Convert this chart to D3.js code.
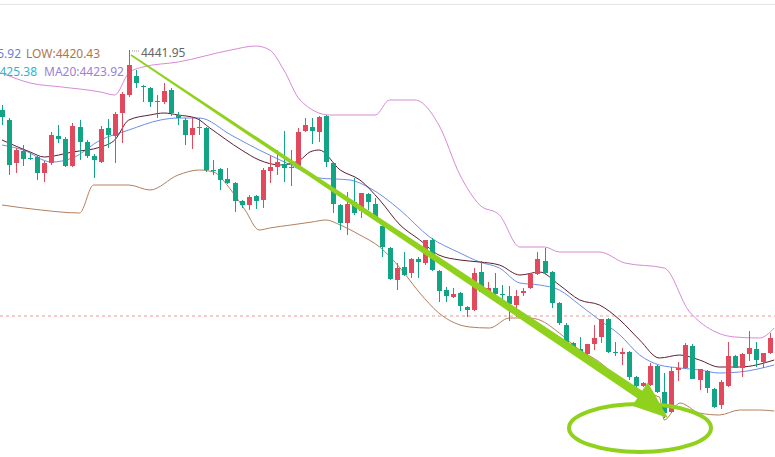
<!DOCTYPE html>
<html>
<head>
<meta charset="utf-8">
<script src="https://cdn.jsdelivr.net/npm/d3@7.9.0/dist/d3.min.js"></script>
<style>
  body { margin: 0; background: #fff; }
  svg { display: block; font-family: "Noto Sans", Roboto, sans-serif; }
</style>
</head>
<body>
<svg id="chart" width="775" height="457"></svg>
<script>
// candles: open, high, low, close
const candles = [
  [4439.0,4439.5,4437.5,4438.3],[4438.0,4438.2,4432.5,4433.5],[4433.7,4435.2,4432.7,4435.0],[4434.9,4435.5,4433.4,4434.1],
  [4434.2,4434.7,4434.0,4434.15],[4434.3,4434.5,4432.0,4432.7],[4432.7,4433.9,4431.8,4433.7],[4433.7,4436.8,4433.5,4436.5],
  [4436.4,4437.5,4435.7,4436.1],[4436.1,4436.3,4433.3,4433.4],[4433.4,4437.7,4433.3,4437.4],[4437.3,4438.0,4434.0,4435.8],
  [4435.8,4436.0,4434.2,4434.4],[4434.4,4434.6,4432.2,4434.0],[4433.8,4437.4,4433.7,4437.1],[4437.2,4438.1,4435.2,4436.5],
  [4436.4,4438.8,4433.7,4438.6],[4438.7,4440.8,4435.7,4440.6],[4440.5,4445.0,4440.3,4443.5],[4442.4,4443.0,4441.2,4441.7],
  [4441.4,4441.5,4439.8,4441.3],[4441.2,4441.3,4439.3,4439.8],[4439.85,4440.5,4438.2,4439.9],[4439.8,4441.7,4439.6,4440.9],
  [4441.0,4441.2,4438.4,4438.7],[4438.5,4438.8,4437.5,4438.2],[4438.0,4438.2,4435.5,4436.5],[4436.5,4438.2,4435.1,4437.2],
  [4437.25,4438.2,4436.5,4437.3],[4437.2,4437.3,4432.8,4433.0],[4433.0,4434.0,4432.5,4432.95],[4433.1,4433.2,4431.0,4432.0],
  [4432.1,4433.2,4431.6,4431.7],[4431.7,4431.8,4428.8,4429.9],[4429.9,4430.0,4429.2,4429.5],[4429.5,4430.5,4429.0,4430.3],
  [4430.4,4430.5,4429.1,4429.9],[4430.0,4433.2,4429.2,4433.0],[4432.9,4434.5,4431.7,4433.3],[4433.3,4435.0,4432.5,4433.8],
  [4433.6,4436.9,4431.8,4433.2],[4433.25,4435.0,4431.4,4433.3],[4433.3,4437.2,4433.2,4436.8],[4436.9,4438.2,4436.8,4437.5],
  [4437.3,4438.2,4435.6,4436.9],[4436.8,4438.4,4435.8,4438.3],[4438.4,4438.5,4433.3,4433.8],[4433.7,4433.8,4428.7,4429.6],
  [4429.5,4429.6,4427.0,4427.7],[4427.7,4430.8,4426.5,4429.6],[4429.8,4432.2,4428.5,4428.7],[4428.9,4430.7,4428.2,4430.7],
  [4430.6,4430.7,4429.0,4429.8],[4429.6,4430.2,4428.1,4428.2],[4427.4,4427.6,4424.3,4425.3],[4425.2,4425.3,4422.0,4422.1],
  [4422.0,4423.7,4421.0,4423.2],[4423.3,4424.8,4422.4,4422.5],[4422.7,4424.2,4422.2,4424.1],[4424.1,4424.3,4422.2,4423.8],
  [4423.7,4426.0,4423.5,4426.0],[4426.0,4426.2,4422.9,4423.0],[4422.9,4423.0,4419.8,4420.9],[4421.0,4421.3,4419.8,4420.4],
  [4420.3,4421.2,4420.2,4420.6],[4420.7,4420.8,4418.9,4419.4],[4419.3,4419.4,4418.3,4419.0],[4419.0,4423.2,4418.9,4422.7],
  [4422.8,4423.9,4420.7,4420.8],[4420.6,4421.8,4420.5,4421.2],[4421.2,4422.7,4420.2,4420.6],[4420.6,4421.5,4420.0,4420.55],
  [4420.4,4421.4,4417.9,4419.6],[4419.5,4421.0,4418.3,4420.4],[4420.7,4421.2,4420.4,4420.9],[4421.2,4422.7,4421.1,4422.6],
  [4422.6,4424.8,4422.5,4424.1],[4423.9,4425.2,4422.6,4422.7],[4422.8,4422.9,4419.2,4419.7],[4419.7,4419.8,4417.5,4417.7],
  [4417.5,4417.7,4415.5,4415.7],[4415.7,4415.8,4414.5,4415.0],[4415.1,4416.3,4414.4,4414.5],[4414.6,4414.8,4414.2,4415.6],
  [4415.6,4417.5,4415.0,4416.2],[4416.3,4416.5,4415.7,4418.1],[4418.1,4418.2,4414.7,4414.8],[4414.8,4415.8,4414.4,4414.7],
  [4414.6,4415.2,4413.5,4414.8],[4414.8,4414.9,4412.0,4412.3],[4412.3,4412.4,4410.3,4411.4],[4411.4,4411.8,4411.3,4411.7],
  [4411.5,4413.7,4411.4,4413.4],[4413.4,4413.5,4410.7,4410.8],[4410.8,4412.7,4408.2,4408.7],[4408.8,4413.3,4408.7,4412.9],
  [4413.0,4413.8,4411.9,4413.2],[4413.2,4415.7,4413.1,4415.5],[4415.4,4415.6,4412.1,4412.1],[4412.0,4413.1,4411.0,4413.1],
  [4412.9,4413.0,4410.7,4411.2],[4411.1,4411.2,4409.2,4409.3],[4409.5,4412.0,4409.1,4411.8],[4411.4,4415.8,4411.3,4414.4],
  [4414.4,4414.5,4413.2,4413.2],[4413.2,4414.7,4412.3,4414.6],[4414.6,4416.9,4413.9,4415.2],[4415.1,4415.8,4413.3,4414.0],
  [4413.8,4414.7,4413.2,4414.7],[4414.7,4416.7,4414.6,4416.2]
];

// indicator lines: [candle index, price]
const upperBand = [[0,4442.7],[4,4441.7],[8.5,4441.3],[14,4440.8],[16,4440.5],[18,4442.7],[20,4443.3],[25,4443.8],[32.5,4445.0],[36,4445.4],
  [38,4445.0],[40,4443.0],[42.3,4440.0],[46.5,4438.5],[53,4438.5],[55,4440.0],[58.6,4440.0],[62,4437.5],[65,4432.5],
  [67.8,4429.5],[70.6,4428.5],[73.5,4425.3],[77,4425.3],[79.1,4424.8],[84.8,4424.8],[88.4,4423.7],[94,4423.2],
  [97.6,4418.8],[104,4416.3],[107.5,4416.2],[109.6,4417.2]];
const lowerBand = [[0,4429.5],[5.5,4429.0],[11,4428.7],[13,4431.5],[18,4431.5],[21,4431.0],[25,4432.5],[28,4433.0],[30,4432.8],
  [32.5,4431.0],[34.5,4429.0],[36.5,4427.0],[38,4427.2],[41,4427.5],[44,4427.8],[46,4428.0],[48,4427.5],[50.8,4426.5],
  [53.6,4425.3],[56.5,4423.2],[59.3,4420.7],[62,4418.7],[66.4,4417.3],[69.2,4417.2],[72,4418.2],[74.9,4418.2],
  [76.3,4418.0],[79.1,4416.7],[82,4415.0],[84.8,4413.8],[87.7,4412.0],[90.5,4410.8],[93.3,4410.3],[94,4408.0],
  [96.2,4409.7],[99,4408.7],[101.8,4408.5],[104.7,4409.0],[107.5,4409.0],[109.6,4408.9]];
const ma20 = [[0,4435.5],[3,4435.0],[7,4433.8],[10,4434.2],[14,4436.0],[18,4437.0],[22.5,4438.0],[25,4438.2],[28,4438.2],
  [32.5,4436.5],[36.5,4435.0],[41,4433.5],[45,4432.2],[49.4,4432.0],[52.2,4431.2],[56.5,4429.0],[60.7,4426.3],
  [65,4424.7],[67.8,4423.8],[70.6,4423.2],[73.5,4421.7],[76.3,4421.5],[79.1,4421.0],[82,4419.5],[84.8,4418.0],
  [87.7,4416.5],[90.5,4414.5],[93.3,4413.5],[96.2,4413.2],[99,4413.0],[101.8,4412.7],[104.7,4412.8],[109.6,4413.5]];
const ma10 = [[0,4436.0],[4,4434.8],[6,4434.3],[10,4434.8],[14,4435.3],[16,4436.0],[18,4438.0],[21,4438.5],[23,4438.7],
  [25,4438.5],[27.5,4438.2],[29.5,4437.2],[34,4435.0],[36.5,4434.0],[39.5,4433.5],[42.3,4434.0],[43.7,4434.8],
  [45,4435.0],[48,4433.0],[50.8,4432.0],[53.6,4430.0],[56.5,4427.5],[59.3,4426.0],[62,4424.5],[65,4424.0],
  [67.8,4423.8],[70.6,4423.5],[73.5,4422.5],[76.3,4422.8],[79.1,4421.5],[82,4420.0],[84.8,4419.5],[87.7,4418.0],
  [90.5,4416.0],[93.3,4414.2],[96.2,4414.5],[99,4414.0],[101.8,4413.3],[104.7,4413.3],[109.6,4414.0]];

const lowLine = 4418.4;
const legendRow1 = [{ text: 'H:4435.92', color: '#6b7fd6', x: 21, anchor: 'end' }, { text: 'LOW:4420.43', color: '#b0754e', x: 26, anchor: 'start' }];
const legendRow2 = [{ text: 'MA10:4425.38', color: '#2fb5d4', x: 37, anchor: 'end' }, { text: 'MA20:4423.92', color: '#9b7fd9', x: 44, anchor: 'start' }];
const highLabel = '4441.95';

const width = 775, height = 457;
const svg = d3.select('#chart');

const x = d3.scaleLinear().domain([0, candles.length - 1]).range([2, 770]);
const y = d3.scaleLinear().domain([4450 - height / 10, 4450]).range([height, 0]);

const up = '#e04a5c', down = '#13a385';

svg.append('line').attr('x1', 0).attr('x2', width).attr('y1', 4.5).attr('y2', 4.5)
  .attr('stroke', '#e6e6e6');

svg.append('line').attr('x1', 0).attr('x2', width).attr('y1', y(lowLine)).attr('y2', y(lowLine))
  .attr('stroke', '#eb9a9a').attr('stroke-dasharray', '3,3').attr('stroke-width', 1);

const line = d3.line().x(d => x(d[0])).y(d => y(d[1])).curve(d3.curveMonotoneX);
[[upperBand, '#d78ad6'], [lowerBand, '#b3805e'], [ma20, '#6d8ee8'], [ma10, '#5c1f33']].forEach(([data, color]) => {
  svg.append('path').attr('d', line(data)).attr('fill', 'none').attr('stroke', color).attr('stroke-width', 1);
});

const g = svg.append('g');
candles.forEach((c, i) => {
  const [o, h, l, cl] = c;
  const col = cl >= o ? up : down;
  const cx = Math.round(x(i)) + 0.5;
  g.append('line').attr('x1', cx).attr('x2', cx).attr('y1', y(h)).attr('y2', y(l)).attr('stroke', col);
  const top = y(Math.max(o, cl)), bot = y(Math.min(o, cl));
  g.append('rect').attr('x', cx - 2.5).attr('width', 5).attr('y', top)
    .attr('height', Math.max(1, bot - top)).attr('fill', col);
});

// trend arrow (tapered)
const lime = '#8fd11c';
const p0 = [131, 55], p1 = [645, 398];
const ang = Math.atan2(p1[1] - p0[1], p1[0] - p0[0]);
const nx = -Math.sin(ang), ny = Math.cos(ang);
const w0 = 0.8, w1 = 4.5;
svg.append('path').attr('fill', lime).attr('d', d3.line()([
  [p0[0] + nx * w0, p0[1] + ny * w0], [p1[0] + nx * w1, p1[1] + ny * w1],
  [p1[0] - nx * w1, p1[1] - ny * w1], [p0[0] - nx * w0, p0[1] - ny * w0]
]) + 'Z');
const tip = [668, 418], hb = [640, 394], hw = 14;
svg.append('path').attr('fill', lime).attr('d', d3.line()([
  tip, [hb[0] + nx * hw, hb[1] + ny * hw], [hb[0] - nx * hw, hb[1] - ny * hw]
]) + 'Z');

svg.append('ellipse').attr('cx', 640).attr('cy', 428).attr('rx', 71).attr('ry', 24)
  .attr('fill', 'none').attr('stroke', lime).attr('stroke-width', 4);

// legend
const font = 12;
legendRow1.forEach(d => svg.append('text').attr('x', d.x).attr('y', 58).attr('fill', d.color)
  .attr('font-size', font).attr('text-anchor', d.anchor).text(d.text));
legendRow2.forEach(d => svg.append('text').attr('x', d.x).attr('y', 76).attr('fill', d.color)
  .attr('font-size', font).attr('text-anchor', d.anchor).text(d.text));

svg.append('line').attr('x1', 132).attr('x2', 139).attr('y1', 51).attr('y2', 51)
  .attr('stroke', '#999').attr('stroke-dasharray', '1,1');
svg.append('text').attr('x', 141).attr('y', 57).attr('fill', '#666').attr('font-size', font).text(highLabel);
</script>
</body>
</html>
